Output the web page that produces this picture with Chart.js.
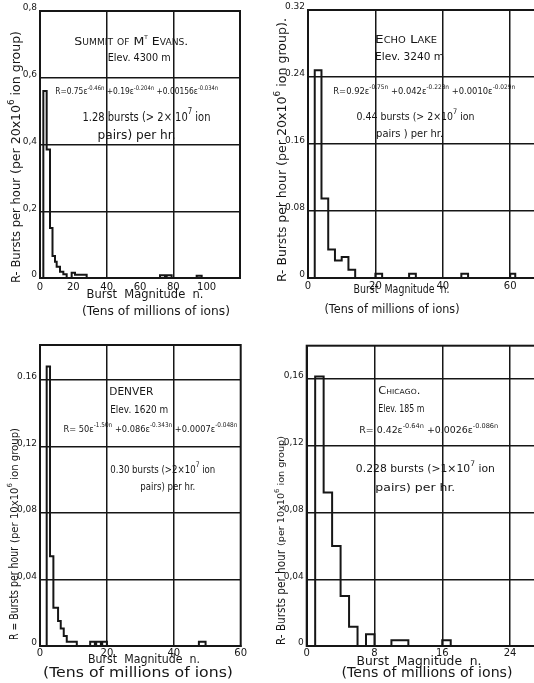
<!DOCTYPE html>
<html>
<head>
<meta charset="utf-8">
<script src="https://cdn.jsdelivr.net/npm/chart.js@4"></script>
<style>
  body { margin: 0; background: #fff; }
  #page { position: relative; width: 534px; height: 683px; overflow: hidden; }
  canvas { position: absolute; }
</style>
</head>
<body>
<div id="page">
  <canvas id="evans" width="262" height="335" style="left:0;top:0"></canvas>
  <canvas id="echo" width="330" height="335" style="left:265px;top:0"></canvas>
  <canvas id="denver" width="262" height="348" style="left:0;top:335px"></canvas>
  <canvas id="chicago" width="330" height="348" style="left:265px;top:335px"></canvas>
</div>
<script>
const INK = '#161616';
const FONT = '"DejaVu Sans", sans-serif';

// bin edges (n) and bursts per hour for each bin
const evansEdges = [2, 4, 6, 7.5, 9, 10, 12, 14, 16, 19, 21, 28, 72, 75, 76, 79, 94, 97];
const evansRates = [0.56, 0.385, 0.15, 0.066, 0.049, 0.034, 0.019, 0.011, 0, 0.016, 0.01, 0, 0.008, 0, 0.008, 0, 0.007];

const echoEdges = [2, 4, 6, 8, 10, 12, 14, 20, 22, 30, 32, 45.5, 47.5, 60, 61.5];
const echoRates = [0.248, 0.095, 0.034, 0.021, 0.025, 0.01, 0, 0.005, 0, 0.005, 0, 0.005, 0, 0.005];

const denverEdges = [2, 3, 4, 5.4, 6.2, 7.1, 8, 11, 15, 16.4, 16.8, 18.2, 18.6, 20, 47.5, 49.5];
const denverRates = [0.168, 0.054, 0.023, 0.015, 0.0105, 0.006, 0.0025, 0, 0.0025, 0, 0.0025, 0, 0.0025, 0, 0.0025];

const chicagoEdges = [1, 2, 3, 4, 5, 6, 7, 8, 10, 12, 16, 17];
const chicagoRates = [0.1615, 0.092, 0.06, 0.03, 0.0116, 0, 0.007, 0, 0.0035, 0, 0.0035];

// axis ticks
const evansXTicks = [0, 20, 40, 60, 80, 100];
const evansXGrid = [40, 80];
const evansYTicks = [0, 0.2, 0.4, 0.6, 0.8];
const evansYLabels = ['0', '0,2', '0,4', '0,6', '0,8'];

const echoXTicks = [0, 20, 40, 60, 80];
const echoXGrid = [20, 40, 60];
const echoYTicks = [0, 0.08, 0.16, 0.24, 0.32];
const echoYLabels = ['0', '0.08', '0.16', '0.24', '0.32'];

const denverXTicks = [0, 20, 40, 60];
const denverXGrid = [20, 40];
const denverYTicks = [0, 0.04, 0.08, 0.12, 0.16];
const denverYLabels = ['0', '0,04', '0,08', '0,12', '0.16'];

const chicagoXTicks = [0, 8, 16, 24, 32];
const chicagoXGrid = [8, 16, 24];
const chicagoYTicks = [0, 0.04, 0.08, 0.12, 0.16];
const chicagoYLabels = ['0', '0,04', '0,08', '0,12', '0,16'];

function steps(edges, rates) {
  const pts = [{x: edges[0], y: 0}];
  rates.forEach((r, i) => pts.push({x: edges[i], y: r}));
  pts.push({x: edges[edges.length - 1], y: 0});
  return pts;
}

// one line of lettering at a given size, squeezed sideways towards width w
// parts = [[text, isSuperscript]]
function fitLine(ctx, parts, x, y, w, size, caps, center) {
  const font = s => (caps ? 'small-caps ' : '') + s.toFixed(2) + 'px ' + FONT;
  let nat = 0;
  parts.forEach(p => { ctx.font = font(p[1] ? size * 0.7 : size); nat += ctx.measureText(p[0]).width; });
  const k = Math.min(1.35, Math.max(0.65, w / nat));
  ctx.save();
  ctx.translate(center ? x - nat * k / 2 : x, y);
  ctx.scale(k, 1);
  let cx = 0;
  parts.forEach(p => {
    ctx.font = font(p[1] ? size * 0.7 : size);
    ctx.fillText(p[0], cx, p[1] ? -size * 0.45 : 0);
    cx += ctx.measureText(p[0]).width;
  });
  ctx.restore();
  return nat * k;
}

function notes(o) {
  return {
    id: 'notes',
    afterDraw(chart) {
      const {ctx, chartArea: a, scales: {x, y}} = chart;
      ctx.save();
      ctx.strokeStyle = INK;
      ctx.lineWidth = 2;
      ctx.strokeRect(a.left, a.top, a.right - a.left, a.bottom - a.top);
      ctx.fillStyle = INK;
      ctx.textBaseline = 'middle';
      ctx.textAlign = 'left';
      o.inside.forEach(t => fitLine(ctx, t.parts, x.getPixelForValue(t.n), y.getPixelForValue(t.r), t.w, t.size, t.caps));
      o.xTitle.forEach(t => fitLine(ctx, [[t.text]], a.left + t.dx, a.bottom + t.dy, t.w, t.size, false, true));
      ctx.translate(o.yTitle.x, a.bottom + o.yTitle.dy);
      ctx.rotate(-Math.PI / 2);
      let cx = 0;
      o.yTitle.items.forEach(t => { cx += fitLine(ctx, t.parts, cx, 0, t.w, t.size) + 4; });
      ctx.restore();
    }
  };
}

function makeChart(id, o) {
  return new Chart(document.getElementById(id), {
    type: 'line',
    data: {
      datasets: [{
        data: steps(o.edges, o.rates),
        borderColor: INK,
        borderWidth: 2,
        pointRadius: 0,
        stepped: true,
        fill: false
      }]
    },
    options: {
      responsive: false,
      animation: false,
      layout: {padding: {top: o.top, right: o.right, left: 0, bottom: 0}},
      plugins: {legend: {display: false}, tooltip: {enabled: false}},
      scales: {
        x: {
          type: 'linear', min: 0, max: o.xMax,
          afterBuildTicks: s => { s.ticks = o.xTicks.map(v => ({value: v})); },
          afterFit: s => { s.height = o.xHeight; },
          grid: {drawTicks: false, lineWidth: 1.5, color: c => (c.tick && o.xGrid.includes(c.tick.value)) ? INK : 'rgba(0,0,0,0)'},
          border: {color: INK, width: 2},
          ticks: {autoSkip: false, maxRotation: 0, padding: o.xPad, color: INK, font: {family: FONT, size: 10}}
        },
        y: {
          min: 0, max: o.yMax,
          afterBuildTicks: s => { s.ticks = o.yTicks.map(v => ({value: v})); },
          afterFit: s => { s.width = o.left; },
          grid: {drawTicks: false, lineWidth: 1.5, color: INK},
          border: {color: INK, width: 2},
          ticks: {padding: 3, labelOffset: -3, color: INK, font: {family: FONT, size: 9}, callback: (v, i) => o.yLabels[i]}
        }
      }
    },
    plugins: [notes(o)]
  });
}

makeChart('evans', {
  edges: evansEdges, rates: evansRates,
  xTicks: evansXTicks, xGrid: evansXGrid, yTicks: evansYTicks, yLabels: evansYLabels,
  xMax: 120, yMax: 0.8, top: 11, right: 22, left: 40, xHeight: 57, xPad: 3,
  inside: [
    {n: 20.6, r: 0.707, w: 114, size: 11, caps: true, parts: [['Summit of M'], ['t', 1], [' Evans.']]},
    {n: 40.6, r: 0.659, w: 63, size: 10.5, parts: [['Elev. 4300 m']]},
    {n: 9.1, r: 0.557, w: 163, size: 9, parts: [['R=0.75ε'], ['-0.46n', 1], [' +0.19ε'], ['-0.204n', 1], [' +0.00156ε'], ['-0.034n', 1]]},
    {n: 25.5, r: 0.481, w: 128, size: 12, parts: [['1.28 bursts (> 2× 10'], ['7', 1], [' ion']]},
    {n: 34.5, r: 0.425, w: 78, size: 12, parts: [['pairs) per hr.']]}
  ],
  xTitle: [
    {text: 'Burst  Magnitude  n.', dx: 105, dy: 17, w: 117, size: 12},
    {text: '(Tens of millions of ions)', dx: 116, dy: 34, w: 148, size: 13}
  ],
  yTitle: {x: 17, dy: 5, items: [
    {w: 105, size: 12.5, parts: [['R- Bursts per hour']]},
    {w: 143, size: 11.5, parts: [['(per 20x10'], ['6', 1], [' ion group)']]}
  ]}
});

makeChart('echo', {
  edges: echoEdges, rates: echoRates,
  xTicks: echoXTicks, xGrid: echoXGrid, yTicks: echoYTicks, yLabels: echoYLabels,
  xMax: 80, yMax: 0.32, top: 10, right: 17.4, left: 43, xHeight: 57, xPad: 2,
  inside: [
    {n: 19.9, r: 0.284, w: 62, size: 11, caps: true, parts: [['Echo Lake']]},
    {n: 19.9, r: 0.264, w: 69, size: 10.5, parts: [['Elev. 3240 m']]},
    {n: 7.5, r: 0.223, w: 182, size: 9, parts: [['R=0.92ε'], ['-0.75n', 1], [' +0.042ε'], ['-0.223n', 1], [' +0.0010ε'], ['-0.029n', 1]]},
    {n: 14.4, r: 0.192, w: 118, size: 11, parts: [['0.44 bursts (> 2×10'], ['7', 1], [' ion']]},
    {n: 20.2, r: 0.171, w: 67, size: 10, parts: [['pairs ) per hr.']]}
  ],
  xTitle: [
    {text: 'Burst  Magnitude  n.', dx: 93.5, dy: 12, w: 96, size: 11.5},
    {text: '(Tens of millions of ions)', dx: 84, dy: 32, w: 135, size: 12.5}
  ],
  yTitle: {x: 18, dy: 4, items: [
    {w: 112, size: 12.5, parts: [['R- Bursts per hour']]},
    {w: 148, size: 11.5, parts: [['(per 20x10'], ['6', 1], [' ion group).']]}
  ]}
});

makeChart('denver', {
  edges: denverEdges, rates: denverRates,
  xTicks: denverXTicks, xGrid: denverXGrid, yTicks: denverYTicks, yLabels: denverYLabels,
  xMax: 60, yMax: 0.181, top: 10, right: 21.3, left: 40, xHeight: 37, xPad: 1,
  inside: [
    {n: 20.7, r: 0.1524, w: 44, size: 11, parts: [['DENVER']]},
    {n: 21, r: 0.1418, w: 58, size: 10, parts: [['Elev. 1620 m']]},
    {n: 7, r: 0.130, w: 174, size: 9.5, parts: [['R= 50ε'], ['-1.50n', 1], [' +0.086ε'], ['-0.343n', 1], [' +0.0007ε'], ['-0.048n', 1]]},
    {n: 21, r: 0.106, w: 105, size: 11, parts: [['0.30 bursts (>2×10'], ['7', 1], [' ion']]},
    {n: 30, r: 0.0958, w: 55, size: 11, parts: [['pairs) per hr.']]}
  ],
  xTitle: [
    {text: 'Burst  Magnitude  n.', dx: 104, dy: 14, w: 112, size: 12},
    {text: '(Tens of millions of ions)', dx: 98, dy: 27, w: 190, size: 14}
  ],
  yTitle: {x: 15, dy: -6, items: [
    {w: 93, size: 11.5, parts: [['R = Bursts per hour']]},
    {w: 115, size: 10, parts: [['(per 10x10'], ['6', 1], [' ion group)']]}
  ]}
});

makeChart('chicago', {
  edges: chicagoEdges, rates: chicagoRates,
  xTicks: chicagoXTicks, xGrid: chicagoXGrid, yTicks: chicagoYTicks, yLabels: chicagoYLabels,
  xMax: 32, yMax: 0.18, top: 10.7, right: 17.2, left: 41.7, xHeight: 37, xPad: 1,
  inside: [
    {n: 8.45, r: 0.1526, w: 42, size: 10.5, caps: true, parts: [['Chicago.']]},
    {n: 8.45, r: 0.1416, w: 46, size: 10.5, parts: [['Elev. 185 m']]},
    {n: 6.2, r: 0.129, w: 139, size: 9.5, parts: [['R= 0.42ε'], ['-0.64n', 1], [' +0.0026ε'], ['-0.086n', 1]]},
    {n: 5.8, r: 0.106, w: 139, size: 11, parts: [['0.228 bursts (>1×10'], ['7', 1], [' ion']]},
    {n: 8.1, r: 0.0946, w: 80, size: 11, parts: [['pairs) per hr.']]}
  ],
  xTitle: [
    {text: 'Burst  Magnitude  n.', dx: 112.3, dy: 15.7, w: 125, size: 12},
    {text: '(Tens of millions of ions)', dx: 120.3, dy: 27, w: 171, size: 13.5}
  ],
  yTitle: {x: 17, dy: -1, items: [
    {w: 95, size: 11.5, parts: [['R- Bursts per hour']]},
    {w: 110, size: 9.5, parts: [['(per 10x10'], ['6', 1], [' ion group)']]}
  ]}
});
</script>
</body>
</html>
